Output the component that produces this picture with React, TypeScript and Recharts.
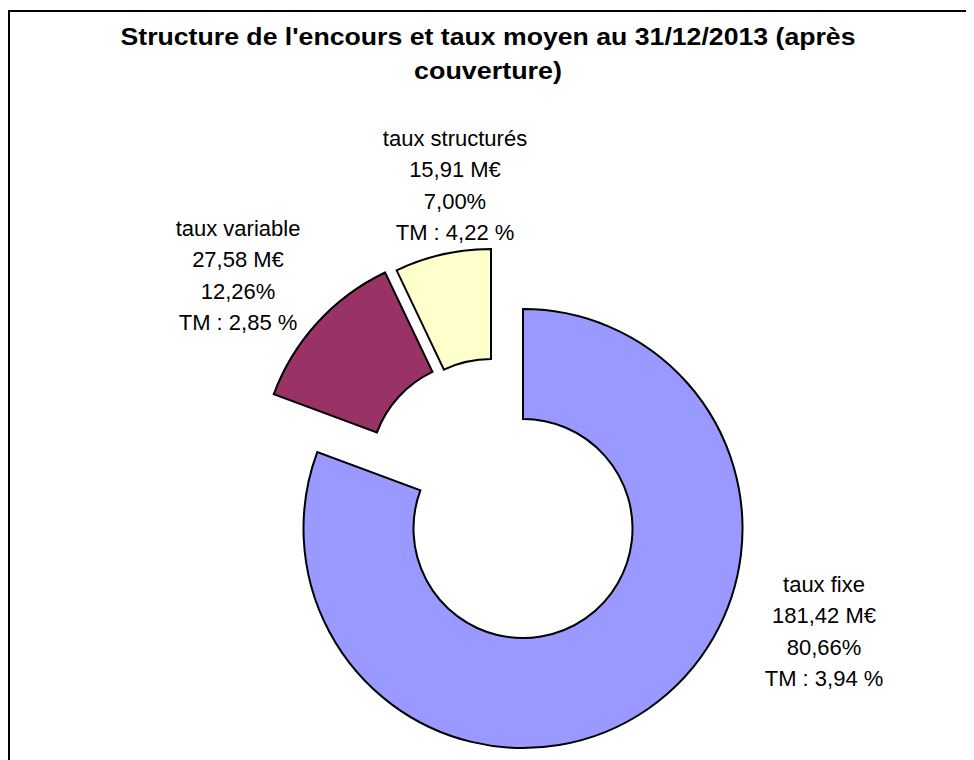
import { PieChart, Pie, Cell } from "recharts";

// debt structure at 31/12/2013 (after hedging)
const categories = ["taux fixe", "taux variable", "taux structurés"];
const amounts = [181.42, 27.58, 15.91]; // M€
const shares = [80.66, 12.26, 7.0]; // % as printed on the chart
const rates = [3.94, 2.85, 4.22]; // taux moyen, %
const COLORS = ["#9999FF", "#993366", "#FFFFCC"];

const titleLines = [
  "Structure de l'encours et taux moyen au 31/12/2013 (après",
  "couverture)",
];
const titleWidths = [735, 148]; // the original title is drawn a bit stretched

const data = categories.map((name, i) => ({
  name,
  value: amounts[i],
  share: shares[i],
  rate: rates[i],
}));

// layout: each slice is exploded, so every one gets its own centre
const SLICE_CENTERS = [
  { cx: 515, cy: 520.5 },
  { cx: 471.5, cy: 462.7 },
  { cx: 483, cy: 460.5 },
];
const LABEL_ANCHORS = [
  { x: 816, y: 584 },
  { x: 230, y: 228 },
  { x: 447, y: 138 },
];
const LINE_H = 31.3;
const FONT = "'Liberation Sans', Arial, sans-serif";

const fmt = (v: number) => v.toFixed(2).replace(".", ",");

function labelFor(slice: number) {
  return (props: any) => {
    if (props.index !== slice) return null;
    const d = data[slice];
    const a = LABEL_ANCHORS[slice];
    const lines = [
      d.name,
      `${fmt(d.value)} M€`,
      `${fmt(d.share)}%`,
      `TM : ${fmt(d.rate)} %`,
    ];
    return (
      <g key={`lbl-${slice}`}>
        {lines.map((t, k) => (
          <text
            key={k}
            x={a.x}
            y={a.y + k * LINE_H}
            textAnchor="middle"
            fontSize={22}
            fontFamily={FONT}
            fill="#000"
          >
            {t}
          </text>
        ))}
      </g>
    );
  };
}

export default function App() {
  return (
    <div style={{ position: "relative", width: 966, height: 752, overflow: "hidden" }}>
      <div
        style={{
          position: "absolute",
          left: 0,
          top: 2,
          width: 1200,
          height: 1200,
          borderLeft: "2px solid #000",
          borderTop: "2px solid #000",
        }}
      />
      <div style={{ position: "absolute", left: 0, top: 0 }}>
        <PieChart width={966} height={752} margin={{ top: 0, right: 0, bottom: 0, left: 0 }}>
          {titleLines.map((t, k) => (
            <text
              key={t}
              x={480}
              y={37 + k * 34}
              textAnchor="middle"
              fontSize={23}
              fontWeight="bold"
              fontFamily={FONT}
              fill="#000"
              textLength={titleWidths[k]}
              lengthAdjust="spacingAndGlyphs"
            >
              {t}
            </text>
          ))}
          {SLICE_CENTERS.map((c, s) => (
            <Pie
              key={`pie-${s}`}
              data={data}
              dataKey="value"
              nameKey="name"
              cx={c.cx}
              cy={c.cy}
              innerRadius={109.5}
              outerRadius={219.5}
              startAngle={90}
              endAngle={-270}
              stroke="#000"
              strokeWidth={2}
              label={labelFor(s)}
              labelLine={false}
              isAnimationActive={false}
            >
              {data.map((_, i) => (
                <Cell
                  key={`cell-${i}`}
                  fill={i === s ? COLORS[i] : "none"}
                  stroke={i === s ? "#000" : "none"}
                />
              ))}
            </Pie>
          ))}
        </PieChart>
      </div>
    </div>
  );
}
